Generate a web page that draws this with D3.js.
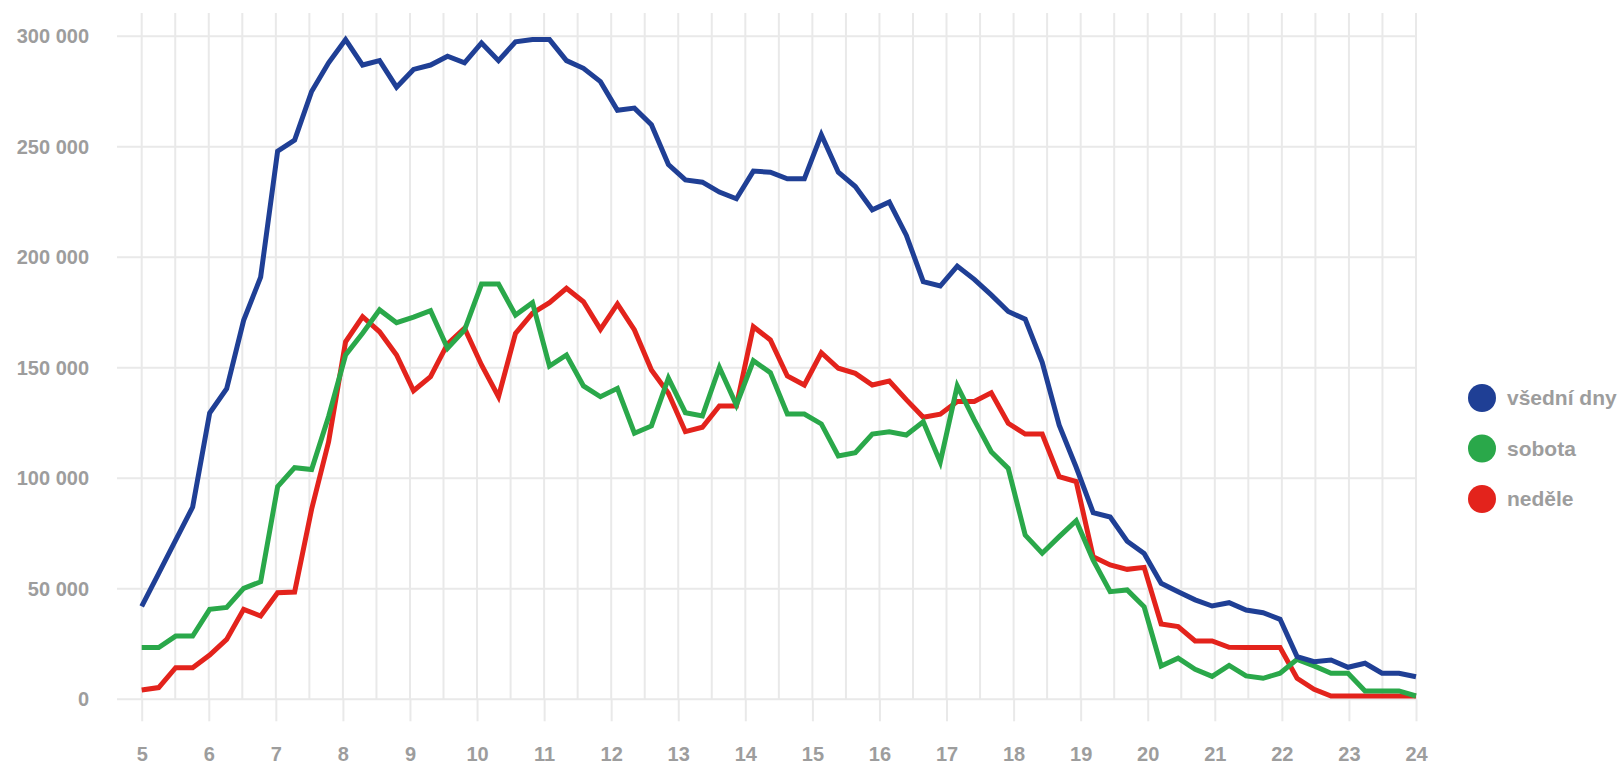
<!doctype html>
<html>
<head>
<meta charset="utf-8">
<script src="https://cdnjs.cloudflare.com/ajax/libs/d3/7.8.5/d3.min.js"></script>
<style>
  body { margin: 0; background: #fff; }
  text { font-family: "Liberation Sans", Arial, sans-serif; font-weight: bold; fill: #9d9d9d; }
</style>
</head>
<body>
<svg id="chart" width="1622" height="764"></svg>
<script>
// series names and colours
var seriesNames = ["všední dny", "sobota", "neděle"];
var seriesColors = ["#1f3f95", "#2aa84a", "#e3231c"];

// x axis labels (hours)
var hourTicks = [5, 6, 7, 8, 9, 10, 11, 12, 13, 14, 15, 16, 17, 18, 19, 20, 21, 22, 23, 24];
var yTicks = [0, 50000, 100000, 150000, 200000, 250000, 300000];

// passengers, 76 evenly spaced samples between 5 and 24 h
var weekday = [42000, 57000, 72000, 87000, 129500, 140500, 171500, 191000, 248000, 253000,
  275000, 288000, 298500, 287000, 289000, 277000, 285000, 287000, 291000, 288000,
  297000, 289000, 297500, 298500, 298500, 289000, 285500, 279500, 266500, 267500,
  260000, 242000, 235000, 234000, 229500, 226500, 239000, 238500, 235500, 235500,
  255500, 238500, 232000, 221500, 225000, 210000, 189000, 187000, 196000, 190000,
  183000, 175500, 172000, 152500, 124000, 105000, 84500, 82500, 71500, 66000,
  52500, 48700, 45000, 42200, 43700, 40400, 39200, 36200, 19300, 17000,
  17800, 14500, 16300, 11800, 11800, 10200];

var saturday = [23400, 23400, 28600, 28600, 40700, 41600, 50200, 53200, 96200, 104800,
  104000, 128000, 155800, 165600, 176200, 170400, 172900, 175800, 158800, 167100,
  187900, 187900, 173900, 179500, 150800, 155800, 141800, 136900, 140700, 120400,
  123700, 145300, 129700, 128200, 150200, 133200, 153200, 147800, 129100, 129100,
  124600, 110100, 111600, 120000, 121000, 119600, 125600, 107300, 141800, 126400,
  112000, 104500, 74300, 66100, 73600, 80800, 63000, 48700, 49500, 41900,
  15100, 18600, 13600, 10400, 15300, 10600, 9500, 11800, 18100, 15100,
  11800, 11800, 3800, 3800, 3800, 1500];

var sunday = [4200, 5300, 14300, 14300, 20000, 27100, 40700, 37700, 48200, 48500,
  86000, 116500, 161800, 173100, 166300, 155800, 139600, 146000, 160800, 167900,
  151300, 136900, 165600, 174700, 179500, 186000, 179900, 167400, 178900, 167100,
  149000, 138500, 121100, 123100, 132700, 132700, 168600, 162600, 146300, 142200,
  156800, 149800, 147500, 142200, 144000, 135600, 127600, 129000, 134700, 134800,
  138700, 124900, 120000, 120000, 100700, 98500, 64500, 60800, 58800, 59700,
  34100, 32900, 26400, 26400, 23500, 23400, 23400, 23400, 9500, 4500,
  1500, 1500, 1500, 1500, 1500, 1500];

var allSeries = [weekday, saturday, sunday];

var svg = d3.select("#chart");
var gridColor = "#e9e9e9";
var gridTop = 13;

var x = d3.scaleLinear().domain([5, 24]).range([141.7, 1416]);
var xi = d3.scalePoint().domain(d3.range(weekday.length)).range([x(5), x(24)]);
var y = d3.scaleLinear().domain([0, 300000]).range([699.3, 36.3]);

var fmt = d3.formatLocale({decimal: ",", thousands: " ", grouping: [3], currency: ["", " Kč"]}).format(",");

// vertical grid every half hour
svg.append("g")
  .selectAll("line")
  .data(d3.range(5, 24.01, 0.5))
  .enter().append("line")
  .attr("x1", function(d) { return x(d); })
  .attr("x2", function(d) { return x(d); })
  .attr("y1", gridTop)
  .attr("y2", y(0))
  .attr("stroke", gridColor)
  .attr("stroke-width", 2);

// horizontal grid
svg.append("g")
  .selectAll("line")
  .data(yTicks)
  .enter().append("line")
  .attr("x1", 117)
  .attr("x2", x(24) + 1)
  .attr("y1", function(d) { return y(d); })
  .attr("y2", function(d) { return y(d); })
  .attr("stroke", gridColor)
  .attr("stroke-width", 2);

// axes
var xAxis = svg.append("g")
  .attr("transform", "translate(0," + y(0) + ")")
  .call(d3.axisBottom(x).tickValues(hourTicks).tickSize(22).tickPadding(26).tickFormat(d3.format("d")));
xAxis.select(".domain").remove();
xAxis.selectAll("line").attr("stroke", gridColor).attr("stroke-width", 2);
xAxis.selectAll("text").style("font-size", "20px").attr("fill", null);

var yAxis = svg.append("g")
  .attr("transform", "translate(95,0)")
  .call(d3.axisLeft(y).tickValues(yTicks).tickSize(0).tickPadding(6).tickFormat(fmt));
yAxis.select(".domain").remove();
yAxis.selectAll("text").style("font-size", "20px").attr("fill", null);

// lines
var line = d3.line()
  .x(function(d, i) { return xi(i); })
  .y(function(d) { return y(d); });

svg.append("g")
  .selectAll("path")
  .data(allSeries.slice().reverse())
  .enter().append("path")
  .attr("d", line)
  .attr("fill", "none")
  .attr("stroke", function(d) { return seriesColors[allSeries.indexOf(d)]; })
  .attr("stroke-width", 5);

// legend
var legend = svg.append("g")
  .attr("transform", "translate(1482,398)");
var item = legend.selectAll("g")
  .data(seriesNames)
  .enter().append("g")
  .attr("transform", function(d, i) { return "translate(0," + i * 50.5 + ")"; });
item.append("circle")
  .attr("r", 14)
  .attr("fill", function(d, i) { return seriesColors[i]; });
item.append("text")
  .attr("x", 25)
  .attr("dy", "0.35em")
  .style("font-size", "21px")
  .text(function(d) { return d; });
</script>
</body>
</html>
